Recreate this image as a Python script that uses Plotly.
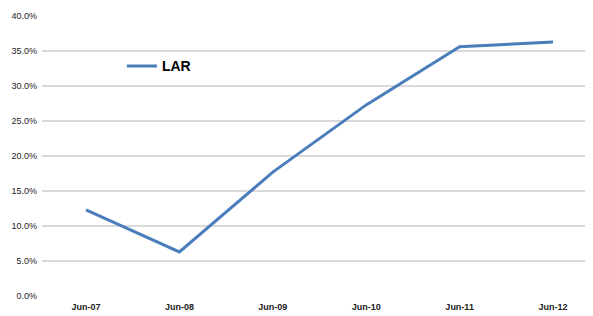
import plotly.graph_objects as go

categories = ["Jun-07", "Jun-08", "Jun-09", "Jun-10", "Jun-11", "Jun-12"]
lar_values = [0.123, 0.063, 0.177, 0.273, 0.356, 0.363]
y_tick_vals = [0, 0.05, 0.10, 0.15, 0.20, 0.25, 0.30, 0.35, 0.40]

fig = go.Figure()
fig.add_trace(go.Scatter(
    x=categories, y=lar_values, mode="lines", name="LAR",
    line=dict(color="#4a7ebb", width=3),
))

# page body has an 8px margin, so the figure is sized to fill the rest of the window
fig.update_layout(
    width=585, height=308,
    margin=dict(l=34, r=0, t=8, b=20, autoexpand=False),
    paper_bgcolor="white", plot_bgcolor="white",
    font=dict(family="Liberation Sans", color="#222222"),
    showlegend=True,
    legend=dict(x=0.145, y=0.82, xanchor="left", yanchor="middle",
                bgcolor="rgba(0,0,0,0)",
                font=dict(size=14, family="Liberation Sans", color="#000000", weight="bold"),
                itemwidth=30),
    xaxis=dict(
        type="category", range=[-0.471, 5.428], automargin=False,
        showgrid=False, showline=False, zeroline=False, ticks="",
        tickfont=dict(size=9, family="Liberation Sans", color="#222222", weight="bold"),
        ticklabelstandoff=4,
    ),
    yaxis=dict(
        range=[0, 0.4], tickvals=y_tick_vals, tickformat=".1%", automargin=False,
        showgrid=True, gridcolor="#d9d9d9", gridwidth=1.5,
        zeroline=False, showline=False, ticks="",
        tickfont=dict(size=9, family="Liberation Sans", color="#222222"),
        ticklabelstandoff=4,
    ),
)

fig.write_html("out.html")
